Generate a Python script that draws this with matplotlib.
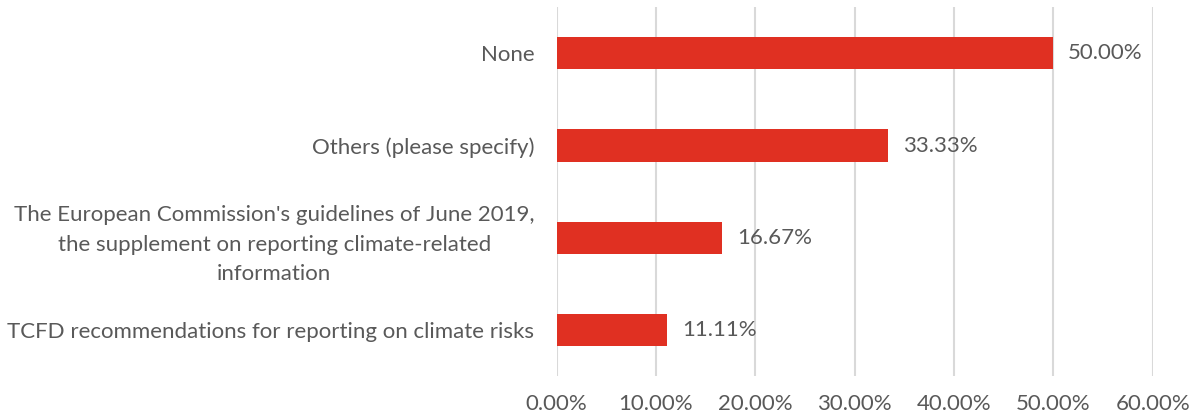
import matplotlib.pyplot as plt
from matplotlib.ticker import FuncFormatter

categories = [
    "TCFD recommendations for reporting on climate risks",
    "The European Commission's guidelines of June 2019,\nthe supplement on reporting climate-related\ninformation",
    "Others (please specify)",
    "None",
]
shares = [11.11, 16.67, 33.33, 50.00]
x_ticks = [0, 10, 20, 30, 40, 50, 60]

plt.rcParams['font.family'] = ['Lato', 'DejaVu Sans']
text_col = '#595959'
bar_col = '#E03022'
fs = 16

fig = plt.figure(figsize=(11.92, 4.18), dpi=100)
ax = fig.add_axes([0.467, 0.1, 0.5, 0.883])

ypos = range(len(categories))
ax.barh(ypos, shares, height=0.35, color=bar_col, zorder=3)
for y, v in zip(ypos, shares):
    ax.text(v + 1.5, y, f"{v:.2f}%", va='center', ha='left', fontsize=fs, color=text_col)

ax.set_xlim(0, 60)
ax.set_ylim(-0.5, len(categories) - 0.5)
ax.set_xticks(x_ticks)
ax.xaxis.set_major_formatter(FuncFormatter(lambda v, p: f"{v:.2f}%"))
ax.set_yticks(list(ypos))
ax.set_yticklabels(categories, ha='right', multialignment='center', linespacing=1.6)
ax.tick_params(axis='y', length=0, pad=16, labelsize=fs, labelcolor=text_col)
ax.tick_params(axis='x', length=0, pad=13, labelsize=fs, labelcolor=text_col)

ax.grid(axis='x', color='#d9d9d9', linewidth=1.5, zorder=0)
for s in ax.spines.values():
    s.set_visible(False)

fig.savefig('out.png', dpi=100)
